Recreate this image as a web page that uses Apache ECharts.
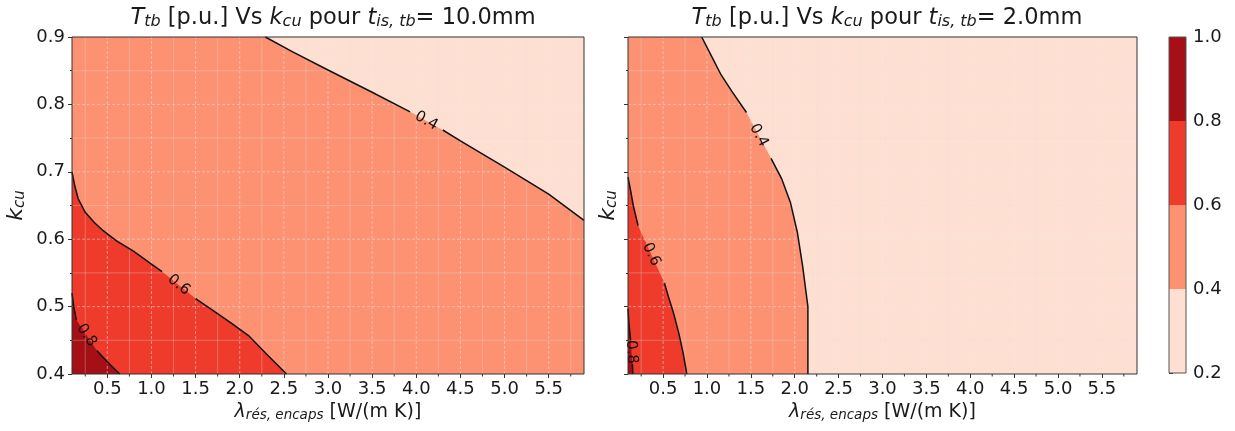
<!DOCTYPE html>
<html>
<head>
<meta charset="utf-8">
<script src="https://cdn.jsdelivr.net/npm/echarts@6/dist/echarts.min.js"></script>
<style>
html,body{margin:0;padding:0;background:#ffffff;}
#chart{width:1235px;height:431px;}
</style>
</head>
<body>
<div id="chart"></div>
<script>
// ---------------- data ----------------
const xRange = [0.1, 5.9];
const yRange = [0.4, 0.9];
const xMajorTicks = [0.5, 1.0, 1.5, 2.0, 2.5, 3.0, 3.5, 4.0, 4.5, 5.0, 5.5];
const xMinorTicks = [0.25, 0.75, 1.25, 1.75, 2.25, 2.75, 3.25, 3.75, 4.25, 4.75, 5.25, 5.75];
const yMajorTicks = [0.4, 0.5, 0.6, 0.7, 0.8, 0.9];
const yMinorTicks = [0.45, 0.55, 0.65, 0.75, 0.85];
const levels = [0.2, 0.4, 0.6, 0.8, 1.0];
const levelColors = ['#fee0d2', '#fc9272', '#ef3b2c', '#a50f15'];
const contourLevels = [0.4, 0.6, 0.8];
const thicknesses = ['10.0', '2.0'];

// Panel A : t_is,tb = 10.0 mm  (null = gap where the inline label sits)
const a_c04 = [[2.29,0.900],[2.6,0.878],[3.0,0.851],[3.5,0.818],[3.93,0.789],null,[4.30,0.762],[4.5,0.746],[5.0,0.707],[5.5,0.667],[5.9,0.628]];
const a_c06 = [[0.1,0.700],[0.13,0.680],[0.17,0.660],[0.25,0.640],[0.35,0.625],[0.45,0.613],[0.6,0.598],[0.8,0.582],[1.0,0.563],[1.12,0.552],null,[1.50,0.512],[1.7,0.494],[1.9,0.476],[2.1,0.457],[2.3,0.430],[2.53,0.400]];
const a_c08 = [[0.1,0.520],[0.12,0.500],[0.15,0.480],null,[0.38,0.435],[0.5,0.418],[0.64,0.400]];

// Panel B : t_is,tb = 2.0 mm
const b_c04 = [[0.94,0.900],[1.05,0.872],[1.16,0.844],[1.28,0.820],[1.45,0.788],null,[1.73,0.720],[1.85,0.690],[1.95,0.655],[2.03,0.610],[2.09,0.560],[2.13,0.520],[2.15,0.500],[2.15,0.400]];
const b_c06 = [[0.1,0.692],[0.13,0.672],[0.16,0.650],[0.215,0.620],null,[0.515,0.535],[0.56,0.515],[0.62,0.490],[0.68,0.460],[0.73,0.430],[0.77,0.400]];
const b_c08 = [[0.1,0.497],[0.11,0.475],[0.13,0.450],null,[0.15,0.415],[0.155,0.400]];

// ---------------- panels ----------------
const X0 = xRange[0], X1 = xRange[1], Y0 = yRange[0], Y1 = yRange[1];
const panels = [
  {
    fills: [
      { band: 1, pts: [[X0,Y0],[X1,Y0],[X1,Y1],[X0,Y1]] },
      { band: 0, pts: a_c04.concat([[X1,Y1]]) },
      { band: 2, pts: a_c06.concat([[X0,Y0]]) },
      { band: 3, pts: a_c08.concat([[X0,Y0]]) }
    ],
    contours: [a_c04, a_c06, a_c08]
  },
  {
    fills: [
      { band: 0, pts: [[X0,Y0],[X1,Y0],[X1,Y1],[X0,Y1]] },
      { band: 1, pts: [[X0,Y1]].concat(b_c04, [[X0,Y0]]) },
      { band: 2, pts: b_c06.concat([[X0,Y0]]) },
      { band: 3, pts: b_c08.concat([[X0,Y0]]) }
    ],
    contours: [b_c04, b_c06, b_c08]
  }
];

const FONT = 'DejaVu Sans';
const TXT = '#1a1a1a';

function makeRender(panel) {
  return function (params, api) {
    const P = p => api.coord(p);
    const ch = [];
    const line = (a, b, style) => ch.push({ type: 'line', shape: { x1: a[0], y1: a[1], x2: b[0], y2: b[1] }, style: style });
    panel.fills.forEach(f => {
      ch.push({ type: 'polygon', shape: { points: f.pts.filter(Boolean).map(P) }, style: { fill: levelColors[f.band] } });
    });
    const minorStyle = { stroke: 'rgba(225,225,225,0.30)', lineWidth: 1 };
    const majorStyle = { stroke: 'rgba(235,235,235,0.50)', lineWidth: 1, lineDash: [3, 2] };
    xMinorTicks.forEach(t => line(P([t, Y0]), P([t, Y1]), minorStyle));
    yMinorTicks.forEach(t => line(P([X0, t]), P([X1, t]), minorStyle));
    xMajorTicks.forEach(t => line(P([t, Y0]), P([t, Y1]), majorStyle));
    yMajorTicks.slice(1, -1).forEach(t => line(P([X0, t]), P([X1, t]), majorStyle));
    panel.contours.forEach((c, ci) => {
      const segs = [];
      let seg = [];
      c.forEach(p => { if (p) { seg.push(P(p)); } else { segs.push(seg); seg = []; } });
      segs.push(seg);
      segs.forEach(s => ch.push({ type: 'polyline', shape: { points: s }, style: { stroke: '#111', lineWidth: 1.5, fill: null } }));
      const k = c.indexOf(null);
      if (k > 0) {
        const a = P(c[k - 1]), b = P(c[k + 1]);
        let ang = Math.atan2(b[1] - a[1], b[0] - a[0]);
        if (ang > Math.PI / 2) ang -= Math.PI;
        if (ang < -Math.PI / 2) ang += Math.PI;
        ch.push({
          type: 'text', x: (a[0] + b[0]) / 2, y: (a[1] + b[1]) / 2, rotation: -ang,
          style: { text: contourLevels[ci].toFixed(1), fontFamily: FONT, fontSize: 15, fill: '#111', align: 'center', verticalAlign: 'middle' }
        });
      }
    });
    const tl = P([X0, Y1]), br = P([X1, Y0]);
    ch.push({ type: 'rect', shape: { x: tl[0], y: tl[1], width: br[0] - tl[0], height: br[1] - tl[1] }, style: { fill: null, stroke: '#333', lineWidth: 1 } });
    xMinorTicks.forEach(t => { const p = P([t, Y0]); line(p, [p[0], p[1] + 2.5], { stroke: '#333', lineWidth: 1 }); });
    return { type: 'group', children: ch };
  };
}

function renderColorbar(params, api) {
  const ch = [];
  for (let i = 0; i < levelColors.length; i++) {
    const a = api.coord([0, levels[i + 1]]), b = api.coord([1, levels[i]]);
    ch.push({ type: 'rect', shape: { x: a[0], y: a[1], width: b[0] - a[0], height: b[1] - a[1] }, style: { fill: levelColors[i] } });
  }
  const a = api.coord([0, levels[levels.length - 1]]), b = api.coord([1, levels[0]]);
  ch.push({ type: 'rect', shape: { x: a[0], y: a[1], width: b[0] - a[0], height: b[1] - a[1] }, style: { fill: null, stroke: '#555', lineWidth: 1 } });
  return { type: 'group', children: ch };
}

const richBase = (size, sub) => ({
  n: { fontFamily: FONT, fontSize: size, fontWeight: 'normal', color: TXT },
  i: { fontFamily: FONT, fontSize: size, fontWeight: 'normal', fontStyle: 'italic', color: TXT },
  s: { fontFamily: FONT, fontSize: sub, fontWeight: 'normal', fontStyle: 'italic', color: TXT, padding: [Math.round(size * 0.35), 0, 0, 0] }
});

const titleText = th => '{i|T}{s|tb}{n| [p.u.] Vs }{i|k}{s|cu}{n| pour }{i|t}{s|is, tb}{n|= ' + th + 'mm}';
const xName = '{i|λ}{s|rés, encaps}{n| [W/(m K)]}';
const yName = '{i|k}{s|cu}';

function xAxisFor(g) {
  return {
    gridIndex: g, type: 'value', min: X0, max: X1,
    axisLine: { show: false },
    axisTick: { show: true, customValues: xMajorTicks, length: 4, lineStyle: { color: '#333' } },
    axisLabel: { customValues: xMajorTicks, formatter: v => v.toFixed(1), fontFamily: FONT, fontSize: 18, color: TXT, margin: 6 },
    splitLine: { show: false },
    name: xName, nameLocation: 'middle', nameGap: 26,
    nameTextStyle: { fontWeight: 'normal', rich: richBase(19, 13.5) }
  };
}
function yAxisFor(g, showLabels, gap) {
  return {
    gridIndex: g, type: 'value', min: Y0, max: Y1, interval: 0.1,
    axisLine: { show: false },
    axisTick: { show: true, length: 4, lineStyle: { color: '#333' } },
    minorTick: { show: true, splitNumber: 2, length: 2, lineStyle: { color: '#333' } },
    axisLabel: { show: showLabels, formatter: v => v.toFixed(1), fontFamily: FONT, fontSize: 18, color: TXT, margin: 7 },
    splitLine: { show: false },
    name: yName, nameLocation: 'middle', nameGap: gap, nameRotate: 90,
    nameTextStyle: { fontWeight: 'normal', rich: richBase(22, 15) }
  };
}

const option = {
  animation: false,
  backgroundColor: '#ffffff',
  title: [
    { text: titleText(thicknesses[0]), left: 328, top: 1, textAlign: 'center', textStyle: { fontWeight: 'normal', rich: richBase(22.5, 16) } },
    { text: titleText(thicknesses[1]), left: 882, top: 1, textAlign: 'center', textStyle: { fontWeight: 'normal', rich: richBase(22.5, 16) } }
  ],
  grid: [
    { left: 72, top: 37, width: 512, height: 337, outerBoundsMode: 'none' },
    { left: 628, top: 37, width: 509, height: 337, outerBoundsMode: 'none' },
    { left: 1169, top: 37, width: 17, height: 336, outerBoundsMode: 'none' }
  ],
  xAxis: [
    xAxisFor(0), xAxisFor(1),
    { gridIndex: 2, type: 'value', min: 0, max: 1, show: false }
  ],
  yAxis: [
    yAxisFor(0, true, 44), yAxisFor(1, false, 8),
    {
      gridIndex: 2, type: 'value', position: 'right', min: levels[0], max: levels[levels.length - 1], interval: 0.2,
      axisLine: { show: false },
      axisTick: { show: true, length: 4, lineStyle: { color: '#333' } },
      axisLabel: { formatter: v => v.toFixed(1), fontFamily: FONT, fontSize: 18, color: TXT, margin: 7 },
      splitLine: { show: false }
    }
  ],
  series: [
    { type: 'custom', xAxisIndex: 0, yAxisIndex: 0, data: [[X0, Y0]], renderItem: makeRender(panels[0]), silent: true, z: 2 },
    { type: 'custom', xAxisIndex: 1, yAxisIndex: 1, data: [[X0, Y0]], renderItem: makeRender(panels[1]), silent: true, z: 2 },
    { type: 'custom', xAxisIndex: 2, yAxisIndex: 2, data: [[0, levels[0]]], renderItem: renderColorbar, silent: true, z: 2 }
  ]
};

const chart = echarts.init(document.getElementById('chart'), null, { renderer: 'canvas', width: 1235, height: 431 });
chart.setOption(option);
</script>
</body>
</html>
